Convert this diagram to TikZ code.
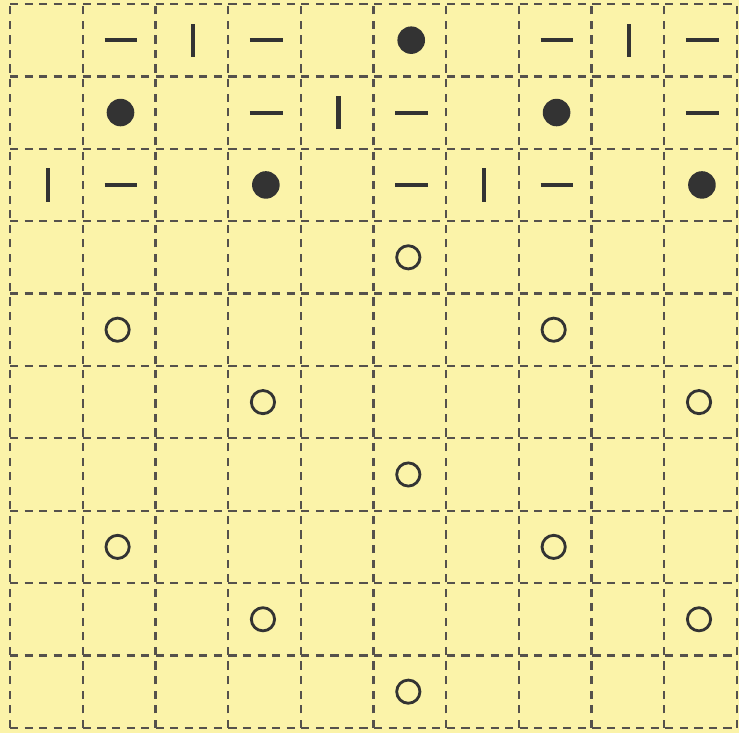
\documentclass[tikz,border=0pt]{standalone}
\usetikzlibrary{positioning}
\definecolor{bgyellow}{HTML}{FBF3A9}
\definecolor{gridgray}{HTML}{55514C}
\definecolor{markdark}{HTML}{333333}
\begin{document}
\begin{tikzpicture}[x=1cm, y=0.996cm,
  gridline/.style={gridgray, line width=0.9pt, dash pattern=on 3.2pt off 2.5pt},
  bar/.style={markdark, line width=1.6pt},
  fulldot/.style={fill=markdark},
  opendot/.style={markdark, line width=1.1pt}]
% 背景
\fill[bgyellow] (-0.138,-0.069) rectangle (10.03,10.055);
\useasboundingbox (-0.138,-0.069) rectangle (10.03,10.055);
% 虚线网格
\foreach \i in {0,...,10} {
  \draw[gridline] (\i,0) -- (\i,10);
  \draw[gridline] (0,\i) -- (10,\i);
}
% 横线段
\foreach \c/\r in {1/0,3/0,7/0,9/0,3/1,5/1,9/1,1/2,5/2,7/2}
  \draw[bar] (\c+0.3,9.5-\r) -- (\c+0.75,9.5-\r);
% 竖线段
\foreach \c/\r in {2/0,8/0,4/1,0/2,6/2}
  \draw[bar] (\c+0.52,9.27-\r) -- (\c+0.52,9.73-\r);
% 实心圆
\foreach \c/\r in {5/0,1/1,7/1,3/2,9/2}
  \fill[fulldot] (\c+0.52,9.5-\r) circle (0.19);
% 空心圆
\foreach \c/\r in {5/3,1/4,7/4,3/5,9/5,5/6,1/7,7/7,3/8,9/8,5/9}
  \draw[opendot] (\c+0.48,9.5-\r) circle (0.16);
\end{tikzpicture}
\end{document}
